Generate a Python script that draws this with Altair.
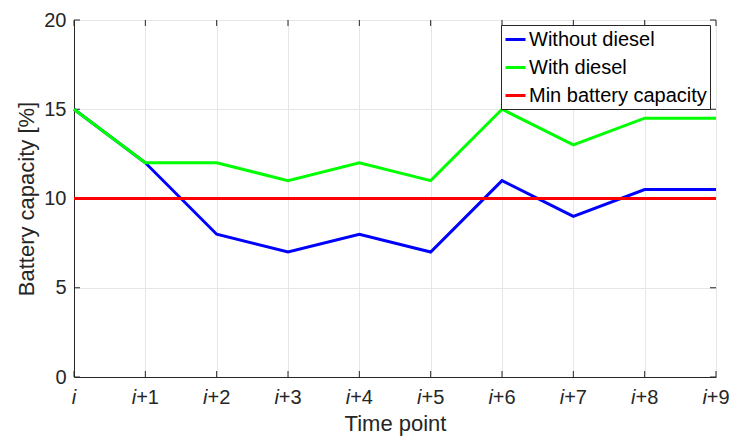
import altair as alt
import pandas as pd

time_idx = [0, 1, 2, 3, 4, 5, 6, 7, 8, 9]
tick_suffix = ["", "+1", "+2", "+3", "+4", "+5", "+6", "+7", "+8", "+9"]
y_ticks = [0, 5, 10, 15, 20]
without_diesel = [15, 12, 8, 7, 8, 7, 11, 9, 10.5, 10.5]
with_diesel = [15, 12, 12, 11, 12, 11, 15, 13, 14.5, 14.5]
min_capacity = [10] * 10

series_names = ["Without diesel", "With diesel", "Min battery capacity"]
series_colors = ["#0000ff", "#00ff00", "#ff0000"]

rows = []
for name, vals in zip(series_names, [without_diesel, with_diesel, min_capacity]):
    for t, v in zip(time_idx, vals):
        rows.append({"t": t, "value": v, "series": name})
df = pd.DataFrame(rows)

ticks_df = pd.DataFrame({"t": time_idx, "suffix": tick_suffix})
yticks_df = pd.DataFrame({"v": y_ticks})

W, H = 642, 357
FONT = "Liberation Sans"
TXT = "#262626"
TL = 6

x_scale = alt.Scale(domain=[0, 9], nice=False, zero=False)
y_scale = alt.Scale(domain=[0, 20], nice=False)

lines = alt.Chart(df).mark_line(strokeWidth=3, clip=False).encode(
    x=alt.X("t:Q", scale=x_scale,
            axis=alt.Axis(values=time_idx, labels=False, ticks=False, domain=True,
                          title="Time point", titlePadding=36, titleFontSize=22,
                          titleFontWeight="normal", titleFont=FONT, titleColor=TXT,
                          gridColor="#e6e6e6", domainColor=TXT)),
    y=alt.Y("value:Q", scale=y_scale,
            axis=alt.Axis(values=y_ticks, ticks=False, labelPadding=8,
                          labelFontSize=20, labelFont=FONT, labelColor=TXT,
                          title="Battery capacity [%]", titleFontSize=22,
                          titleFontWeight="normal", titleFont=FONT, titleColor=TXT,
                          titlePadding=5, gridColor="#e6e6e6", domainColor=TXT)),
    color=alt.Color("series:N",
                    scale=alt.Scale(domain=series_names, range=series_colors),
                    legend=alt.Legend(title=None, orient="none", legendX=427, legendY=5,
                                      symbolType="stroke", symbolStrokeWidth=3,
                                      symbolSize=400, labelFontSize=20, labelFont=FONT,
                                      labelColor="#000000", strokeColor="#262626",
                                      fillColor="white", padding=3, rowPadding=6,
                                      labelOffset=2, labelLimit=400)),
)

# inward tick marks (bottom, top, left, right)
xt_bottom = alt.Chart(ticks_df).mark_rule(color=TXT, strokeWidth=1).encode(
    x=alt.X("t:Q", scale=x_scale), y=alt.value(H), y2=alt.value(H - TL))
xt_top = alt.Chart(ticks_df).mark_rule(color=TXT, strokeWidth=1).encode(
    x=alt.X("t:Q", scale=x_scale), y=alt.value(0), y2=alt.value(TL))
yt_left = alt.Chart(yticks_df).mark_rule(color=TXT, strokeWidth=1).encode(
    y=alt.Y("v:Q", scale=y_scale), x=alt.value(0), x2=alt.value(TL))
yt_right = alt.Chart(yticks_df).mark_rule(color=TXT, strokeWidth=1).encode(
    y=alt.Y("v:Q", scale=y_scale), x=alt.value(W), x2=alt.value(W - TL))

i_first = alt.Chart(ticks_df).transform_filter("datum.t == 0").mark_text(
    font=FONT, fontSize=20, fontStyle="italic", color=TXT, align="center",
    baseline="middle"
).encode(
    x=alt.X("t:Q", scale=x_scale),
    y=alt.value(H + 21),
    text=alt.value("i"),
)

i_rest = alt.Chart(ticks_df).transform_filter("datum.t > 0").mark_text(
    font=FONT, fontSize=20, fontStyle="italic", color=TXT, align="left",
    baseline="middle", dx=-13.6
).encode(
    x=alt.X("t:Q", scale=x_scale),
    y=alt.value(H + 21),
    text=alt.value("i"),
)

suffix_text = alt.Chart(ticks_df).transform_filter("datum.t > 0").mark_text(
    font=FONT, fontSize=20, color=TXT, align="left", baseline="middle", dx=-9.2
).encode(
    x=alt.X("t:Q", scale=x_scale),
    y=alt.value(H + 21),
    text="suffix:N",
)

chart = alt.layer(xt_bottom, xt_top, yt_left, yt_right, lines,
                  i_first, i_rest, suffix_text).properties(
    width=W, height=H,
    autosize=alt.AutoSizeParams(type="none"),
    padding={"left": 66, "top": 12, "right": 13, "bottom": 59},
).configure_view(stroke=TXT, strokeWidth=1).configure(background="white")

chart.save("out.html", embed_options={"renderer": "svg", "actions": False})
